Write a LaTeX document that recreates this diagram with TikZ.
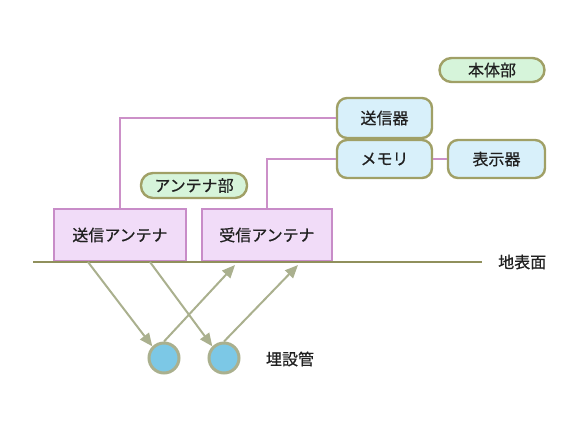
\documentclass[tikz,border=0pt]{standalone}
\usepackage{fontspec}
\setmainfont[FakeBold=0.6]{Noto Sans CJK JP}
\usetikzlibrary{arrows.meta}
\definecolor{olive}{HTML}{A0A066}
\definecolor{pillfill}{HTML}{D6F4DA}
\definecolor{bluefill}{HTML}{D8F0FA}
\definecolor{lavfill}{HTML}{F1DCF8}
\definecolor{lavline}{HTML}{C88CC8}
\definecolor{conn}{HTML}{CC90C8}
\definecolor{arrowc}{HTML}{AAB08E}
\definecolor{pipefill}{HTML}{7CC8E6}
\definecolor{textc}{HTML}{202020}
\tikzset{
  txt/.style={font=\fontsize{16}{16}\selectfont, text=textc},
  pill/.style={txt, draw=olive, line width=2.4pt, fill=pillfill, rounded corners=12pt, minimum height=24pt, inner sep=0pt},
  bluebox/.style={txt, draw=olive, line width=2.4pt, fill=bluefill, rounded corners=10pt, inner sep=0pt},
  antbox/.style={txt, draw=lavline, line width=1.8pt, fill=lavfill, inner sep=0pt},
  connline/.style={draw=conn, line width=1.5pt},
  wave/.style={draw=arrowc, line width=2pt, -{Triangle[length=13pt,width=11pt]}},
  pipe/.style={circle, draw=arrowc, line width=3pt, fill=pipefill, minimum size=30pt, inner sep=0pt},
  lbl/.style={txt, inner sep=0pt}
}
\begin{document}
\begin{tikzpicture}[x=1pt,y=-1pt]
\useasboundingbox (0,0) rectangle (570,434);
% main unit
\node[pill, minimum width=105pt] (hontai) at (492,70) {本体部};
\node[bluebox, minimum width=95pt, minimum height=40pt] (tx) at (384.5,118) {送信器};
\node[bluebox, minimum width=95pt, minimum height=38pt] (mem) at (384.5,159) {メモリ};
\node[bluebox, minimum width=97pt, minimum height=38pt] (disp) at (496.5,159) {表示器};
% antenna unit
\node[pill, minimum width=106pt, minimum height=25pt] (antp) at (194,185.5) {アンテナ部};
\node[antbox, minimum width=132pt, minimum height=52pt] (txa) at (120,235) {送信アンテナ};
\node[antbox, minimum width=130pt, minimum height=52pt] (rxa) at (267,235) {受信アンテナ};
% connectors
\draw[connline] (tx.west) -| (txa.north);
\draw[connline] (mem.west) -| (rxa.north);
\draw[connline] (mem.east) -- (disp.west);
% ground
\coordinate (gl) at (33,262);
\coordinate (gr) at (482,262);
\draw[draw=olive!90!black, line width=2pt] (gl) -- (gr);
\node[lbl, anchor=west] (ground) at (498,262) {地表面};
% pipes
\node[pipe] (p1) at (164,358) {};
\node[pipe] (p2) at (224,358) {};
\node[lbl] (pipelbl) at (290,359) {埋設管};
% waves
\coordinate (s1) at (88,262);
\coordinate (s2) at (150,262);
\coordinate (r1) at (235,265);
\coordinate (r2) at (298,265);
\draw[wave] (s1) -- (p1.north west);
\draw[wave] (s2) -- (p2.north west);
\draw[wave] (p1.north) -- (r1);
\draw[wave] (p2.north) -- (r2);
\end{tikzpicture}
\end{document}
